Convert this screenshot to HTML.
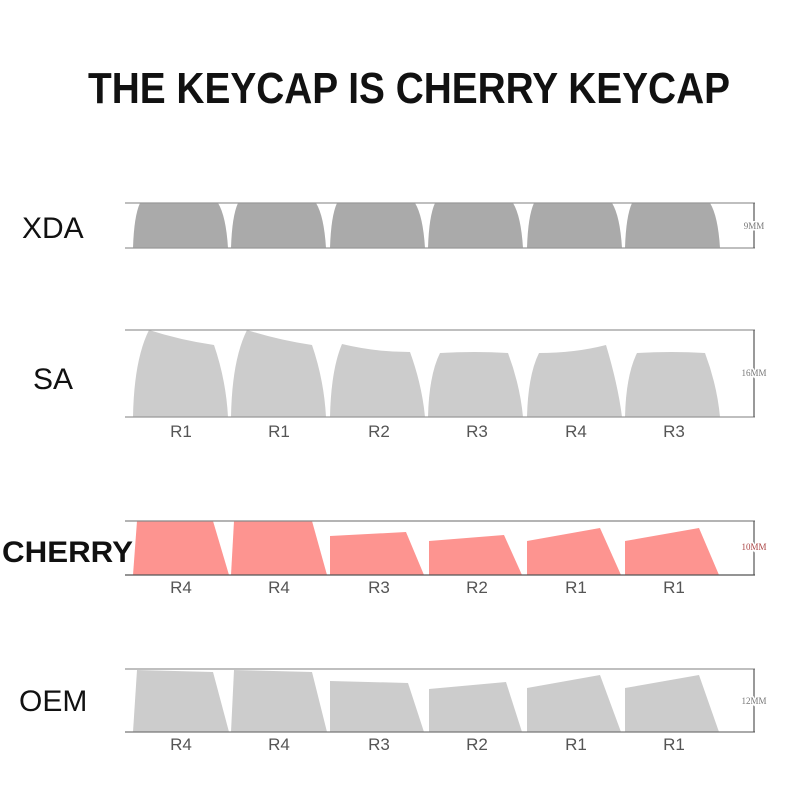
<!DOCTYPE html>
<html><head><meta charset="utf-8"><style>
html,body{margin:0;padding:0;background:#fff;}
svg{display:block;}
</style></head><body>
<svg width="800" height="800" viewBox="0 0 800 800" xmlns="http://www.w3.org/2000/svg">
<rect width="800" height="800" fill="#fff"/>
<text x="409" y="103" font-family="Liberation Sans, sans-serif" font-weight="bold" font-size="44" text-anchor="middle" textLength="642" lengthAdjust="spacingAndGlyphs" fill="#111">THE KEYCAP IS CHERRY KEYCAP</text>

<g font-family="Liberation Sans, sans-serif" fill="#111">
<text x="22" y="238" font-size="30">XDA</text>
<text x="33" y="389" font-size="30">SA</text>
<text x="2" y="562" font-size="30" font-weight="bold" textLength="131" lengthAdjust="spacingAndGlyphs">CHERRY</text>
<text x="19" y="711" font-size="30">OEM</text>
</g>

<!-- XDA -->
<g fill="#aaaaaa">
<path d="M133,248 Q134,216 140,203 L218,203 Q226,216 228,248 Z"/>
<path d="M231,248 Q232,216 238,203 L316,203 Q324,216 326,248 Z"/>
<path d="M330,248 Q331,216 337,203 L415,203 Q423,216 425,248 Z"/>
<path d="M428,248 Q429,216 435,203 L513,203 Q521,216 523,248 Z"/>
<path d="M527,248 Q528,216 534,203 L612,203 Q620,216 622,248 Z"/>
<path d="M625,248 Q626,216 632,203 L710,203 Q718,216 720,248 Z"/>
</g>
<g stroke="#999" stroke-width="1.2">
<line x1="125" y1="203" x2="755" y2="203"/><line x1="125" y1="248" x2="755" y2="248"/>
<line x1="754" y1="203" x2="754" y2="248" stroke="#555"/>
</g>
<text x="754" y="229" font-family="Liberation Serif, serif" font-size="9" fill="#777" text-anchor="middle" stroke="#fff" stroke-width="3" paint-order="stroke">9MM</text>

<!-- SA -->
<g fill="#cccccc">
<path d="M133,417 Q134,360 149,330 Q180,340 214,345 Q226,380 228,417 Z"/>
<path d="M231,417 Q232,360 247,330 Q278,340 312,345 Q324,380 326,417 Z"/>
<path d="M330,417 Q331,370 342,344 Q375,352 410,352 Q422,385 425,417 Z"/>
<path d="M428,417 Q429,375 440,353 Q475,351 508,353 Q520,385 523,417 Z"/>
<path d="M527,417 Q528,375 539,353 Q575,353 606,345 Q618,385 622,417 Z"/>
<path d="M625,417 Q626,375 637,353 Q672,351 705,353 Q717,385 720,417 Z"/>
</g>
<g stroke="#999" stroke-width="1.2">
<line x1="125" y1="330" x2="755" y2="330"/><line x1="125" y1="417" x2="755" y2="417"/>
<line x1="754" y1="330" x2="754" y2="417" stroke="#555"/>
</g>
<text x="754" y="376" font-family="Liberation Serif, serif" font-size="9" fill="#777" text-anchor="middle" stroke="#fff" stroke-width="3" paint-order="stroke">16MM</text>

<!-- CHERRY -->
<g fill="#fd9490">
<path d="M133,575 L137,521 L213,521 L229,575 Z"/>
<path d="M231,575 L234,521 L312,521 L327,575 Z"/>
<path d="M330,575 L330,536 L406,532 L424,575 Z"/>
<path d="M429,575 L429,541 L504,535 L522,575 Z"/>
<path d="M527,575 L527,541 L600,528 L621,575 Z"/>
<path d="M625,575 L625,541 L699,528 L719,575 Z"/>
</g>
<g stroke="#888" stroke-width="1.2">
<line x1="125" y1="521" x2="755" y2="521"/><line x1="125" y1="575" x2="755" y2="575" stroke="#555"/>
<line x1="754" y1="521" x2="754" y2="575" stroke="#555"/>
</g>
<text x="754" y="550" font-family="Liberation Serif, serif" font-size="9" fill="#a44" text-anchor="middle" stroke="#fff" stroke-width="3" paint-order="stroke">10MM</text>

<!-- OEM -->
<g fill="#cccccc">
<path d="M133,732 L137,670 L213,672 L229,732 Z"/>
<path d="M231,732 L234,670 L312,672 L327,732 Z"/>
<path d="M330,732 L330,681 L408,683 L424,732 Z"/>
<path d="M429,732 L429,689 L506,682 L522,732 Z"/>
<path d="M527,732 L527,688 L600,675 L621,732 Z"/>
<path d="M625,732 L625,688 L699,675 L719,732 Z"/>
</g>
<g stroke="#999" stroke-width="1.2">
<line x1="125" y1="669" x2="755" y2="669"/><line x1="125" y1="732" x2="755" y2="732" stroke="#777"/>
<line x1="754" y1="669" x2="754" y2="732" stroke="#555"/>
</g>
<text x="754" y="704" font-family="Liberation Serif, serif" font-size="9" fill="#777" text-anchor="middle" stroke="#fff" stroke-width="3" paint-order="stroke">12MM</text>

<g font-family="Liberation Sans, sans-serif" font-size="17" fill="#555" text-anchor="middle">
<text x="181" y="437">R1</text><text x="279" y="437">R1</text><text x="379" y="437">R2</text><text x="477" y="437">R3</text><text x="576" y="437">R4</text><text x="674" y="437">R3</text>
<text x="181" y="593">R4</text><text x="279" y="593">R4</text><text x="379" y="593">R3</text><text x="477" y="593">R2</text><text x="576" y="593">R1</text><text x="674" y="593">R1</text>
<text x="181" y="750">R4</text><text x="279" y="750">R4</text><text x="379" y="750">R3</text><text x="477" y="750">R2</text><text x="576" y="750">R1</text><text x="674" y="750">R1</text>
</g>
</svg>
</body></html>
